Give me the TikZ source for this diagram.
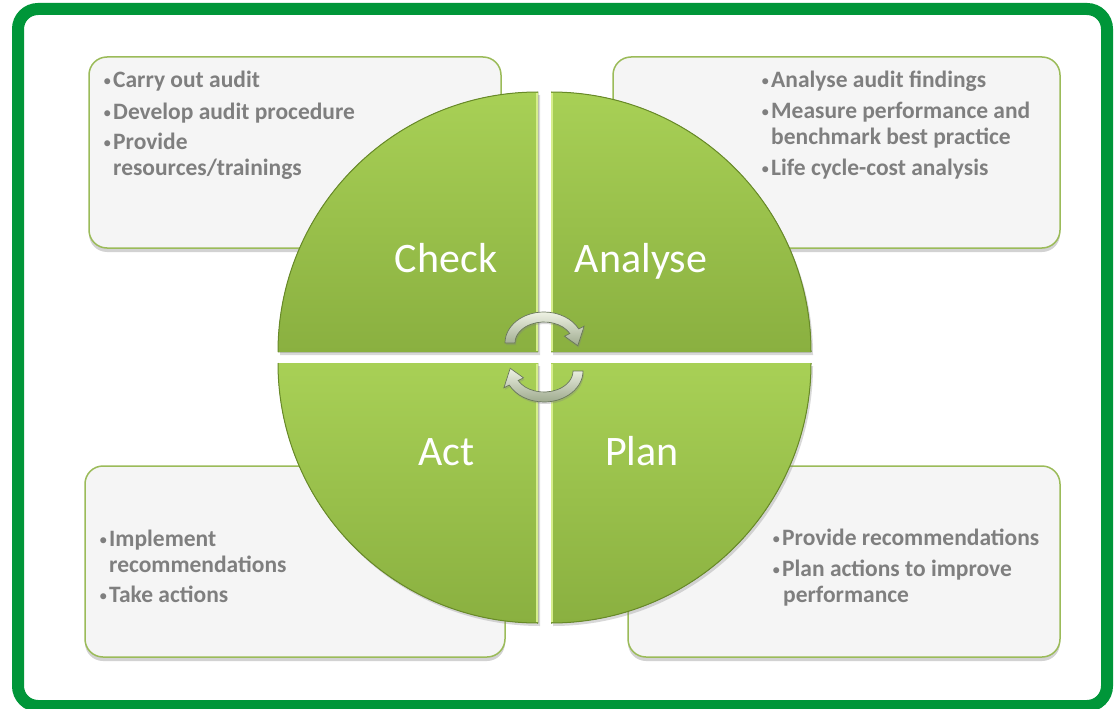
\documentclass[tikz,border=0pt]{standalone}
\usepackage{fontspec}
\setmainfont{Carlito}
\usetikzlibrary{shadows,calc}
\definecolor{framegreen}{RGB}{0,150,57}
\definecolor{boxfill}{RGB}{245,245,245}
\definecolor{boxline}{RGB}{155,187,89}
\definecolor{txtgray}{RGB}{127,127,127}
\definecolor{qtop}{RGB}{168,208,86}
\definecolor{qbot}{RGB}{138,176,64}
\definecolor{qedge}{RGB}{104,138,40}
\definecolor{qhl}{RGB}{214,238,140}
\definecolor{arlight}{RGB}{238,242,228}
\definecolor{ardark}{RGB}{158,170,142}
\definecolor{arline}{RGB}{105,118,92}
\tikzset{
  infobox/.style={draw=boxline, line width=1.5pt, fill=boxfill, rounded corners=18pt,
    inner sep=0pt, drop shadow={shadow xshift=0pt, shadow yshift=-4pt, opacity=0.35}},
  bullettext/.style={anchor=base west, inner sep=0pt,
    font=\fontsize{23.5}{26}\selectfont\bfseries, text=txtgray},
  quadrant/.style={top color=qtop, bottom color=qbot,
    drop shadow={shadow xshift=2pt, shadow yshift=-3pt, opacity=0.3}},
  arcedge/.style={draw=qedge, line width=1pt},
  bevel/.style={draw=qhl, line width=1.5pt},
  biglabel/.style={anchor=base, inner sep=0pt, text=white, font=\fontsize{42}{48}\selectfont},
  cyclearrow/.style={top color=arlight, bottom color=ardark, draw=arline, line width=0.7pt,
    drop shadow={shadow xshift=1pt, shadow yshift=-2pt, opacity=0.3}}
}
\newcommand{\bul}{\makebox[10pt][l]{\fontsize{17}{17}\selectfont\mdseries\raisebox{1pt}{•}}}
\begin{document}
\begin{tikzpicture}[x=1pt, y=-1pt]
\useasboundingbox (0,0) rectangle (1117,709);
\fill[white] (0,0) rectangle (1117,709);
% outer frame
\draw[framegreen, line width=12pt, rounded corners=20pt] (18,9) rectangle (1107,706);

% information boxes
\node[infobox, minimum width=412pt, minimum height=191pt] (boxTL) at (295,152.5) {};
\node[infobox, minimum width=447pt, minimum height=191pt] (boxTR) at (836.5,152.5) {};
\node[infobox, minimum width=420pt, minimum height=191pt] (boxBL) at (295,561.5) {};
\node[infobox, minimum width=432pt, minimum height=191pt] (boxBR) at (844,561.5) {};

% box texts
\node[bullettext] (tl1) at (103,88) {\bul Carry out audit};
\node[bullettext] (tl2) at (103,119) {\bul Develop audit procedure};
\node[bullettext] (tl3) at (103,149) {\bul Provide};
\node[bullettext] (tl4) at (113,175) {resources/trainings};

\node[bullettext] (tr1) at (761,88) {\bul Analyse audit findings};
\node[bullettext] (tr2) at (761,118) {\bul Measure performance and};
\node[bullettext] (tr3) at (771,144) {benchmark best practice};
\node[bullettext] (tr4) at (761,175) {\bul Life cycle-cost analysis};

\node[bullettext] (bl1) at (99,546) {\bul Implement};
\node[bullettext] (bl2) at (109,572) {recommendations};
\node[bullettext] (bl3) at (99,602) {\bul Take actions};

\node[bullettext] (br1) at (772,545) {\bul Provide recommendations};
\node[bullettext] (br2) at (772,576) {\bul Plan actions to improve};
\node[bullettext] (br3) at (783,602) {performance};

% quadrants
\fill[quadrant] (538,352) -- (278,352) arc[start angle=180, end angle=270, radius=260] -- cycle;
\fill[quadrant] (551,352) -- (551,92) arc[start angle=270, end angle=360, radius=260] -- cycle;
\fill[quadrant] (551,363) -- (811,363) arc[start angle=0, end angle=90, radius=260] -- cycle;
\fill[quadrant] (538,363) -- (538,623) arc[start angle=90, end angle=180, radius=260] -- cycle;

\path[bevel] (537,93) -- (537,351);
\path[bevel] (552,93) -- (552,351);
\path[bevel] (552,364) -- (552,622);
\path[bevel] (537,364) -- (537,622);

\path[arcedge] (278,352) arc[start angle=180, end angle=270, radius=260];
\path[arcedge] (551,92) arc[start angle=270, end angle=360, radius=260];
\path[arcedge] (811,363) arc[start angle=0, end angle=90, radius=260];
\path[arcedge] (538,623) arc[start angle=90, end angle=180, radius=260];

% labels
\node[biglabel] (check) at (446,272) {Check};
\node[biglabel] (analyse) at (641,272) {Analyse};
\node[biglabel] (act) at (446.5,465) {Act};
\node[biglabel] (plan) at (642,465) {Plan};

% cycle arrows
\coordinate (cu) at (544,343);
\coordinate (cl) at (544,371);
\path[cyclearrow] ($(cu)+(180:39 and 31)$) arc[start angle=180, end angle=333, x radius=39, y radius=31]
  -- ($(cu)+(333:45 and 37)$) -- ($(cu)+(6:34 and 26)$) -- ($(cu)+(333:23 and 15)$)
  -- ($(cu)+(333:29 and 21)$) arc[start angle=333, end angle=180, x radius=29, y radius=21] -- cycle;
\path[cyclearrow] ($(cl)+(0:39 and 31)$) arc[start angle=0, end angle=153, x radius=39, y radius=31]
  -- ($(cl)+(153:45 and 37)$) -- ($(cl)+(186:34 and 26)$) -- ($(cl)+(153:23 and 15)$)
  -- ($(cl)+(153:29 and 21)$) arc[start angle=153, end angle=0, x radius=29, y radius=21] -- cycle;
\end{tikzpicture}
\end{document}
